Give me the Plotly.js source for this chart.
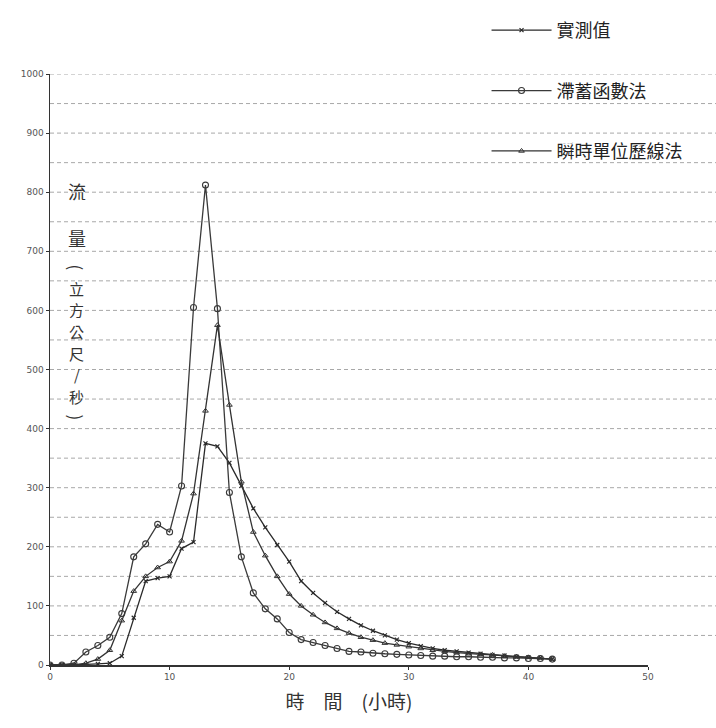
<!DOCTYPE html>
<html>
<head>
<meta charset="utf-8">
<script src="https://cdn.plot.ly/plotly-3.0.1.min.js"></script>
<style>html,body{margin:0;padding:0;background:#fff;}#chart{width:716px;height:728px;}</style>
</head>
<body>
<div id="chart"></div>
<script>
// Hours (x values)
const hours = [0,1,2,3,4,5,6,7,8,9,10,11,12,13,14,15,16,17,18,19,20,21,22,23,24,25,26,27,28,29,30,31,32,33,34,35,36,37,38,39,40,41,42];

// 實測值 (observed)
const observed = [0,0,0,1,2,3,15,80,142,147,150,197,208,375,370,342,303,265,233,203,175,142,122,105,90,78,67,58,50,43,37,32,28,25,23,21,19,17,16,14,13,12,10];

// 滯蓄函數法 (storage function method)
const storageFn = [0,0,3,22,33,47,87,183,205,238,225,303,605,812,603,292,183,122,95,78,55,43,38,33,28,23,22,20,19,18,17,16,15,15,14,14,13,13,12,12,11,11,10];

// 瞬時單位歷線法 (instantaneous unit hydrograph)
const iuh = [0,0,0,3,10,25,75,125,150,165,175,210,290,430,575,440,310,225,185,150,120,100,85,72,62,54,47,42,37,34,31,28,25,23,21,19,18,17,15,14,13,12,10];

const seriesNames = ['實測值', '滯蓄函數法', '瞬時單位歷線法'];
const xTicks = [0,10,20,30,40,50];
const yTicks = [0,100,200,300,400,500,600,700,800,900,1000];

// vertical y-axis title, one glyph per entry
const yTitleChars = ['流', '量', '(', '立', '方', '公', '尺', '/', '秒', ')'];

const cjk = '"Noto Sans CJK TC", "Noto Sans CJK SC", sans-serif';

const traces = [
  {x: hours, y: observed, name: seriesNames[0], mode: 'lines+markers', legendgroup: 'a',
   line: {color: '#2a2a2a', width: 1.3},
   marker: {symbol: 'x-thin-open', size: 4, color: '#2a2a2a', line: {color: '#2a2a2a', width: 1.2}}},
  {x: hours, y: storageFn, name: seriesNames[1], mode: 'lines+markers', legendgroup: 'b',
   line: {color: '#3a3a3a', width: 1.3},
   marker: {symbol: 'circle-open', size: 6, color: '#3a3a3a', line: {width: 1.1}}},
  {x: hours, y: iuh, name: seriesNames[2], mode: 'lines+markers', legendgroup: 'c',
   line: {color: '#333333', width: 1.3},
   marker: {symbol: 'triangle-up-open', size: 5, color: '#333333', line: {width: 1}}}
];

const shapes = [];
for (let v = 50; v <= 1000; v += 50) {
  shapes.push({type: 'line', xref: 'paper', yref: 'y', x0: 0, x1: 1.12, y0: v, y1: v,
    layer: 'below', line: {color: '#a8a8a8', width: 1, dash: '4px,3px'}});
}

// pixel rows of the vertical title glyphs, converted to paper fractions
const plotTop = 66, plotH = 599;
const toPaper = py => 1 - (py - plotTop) / plotH;
const yTitleRows = [185, 232, 262, 283, 305, 327, 349, 371, 393, 414];
const annotations = yTitleChars.map((ch, i) => {
  const isParen = (ch === '(' || ch === ')');
  const big = i < 2;
  return {xref: 'paper', yref: 'paper', x: 0.045, y: toPaper(yTitleRows[i]),
    xanchor: 'center', yanchor: 'middle', showarrow: false, text: ch,
    textangle: isParen ? 90 : 0,
    font: {family: cjk, size: big ? 18 : (isParen ? 17 : 15), color: '#333'}};
});

const layout = {
  width: 716, height: 728,
  margin: {l: 50, r: 68, t: 66, b: 63},
  paper_bgcolor: '#ffffff', plot_bgcolor: 'rgba(0,0,0,0)',
  showlegend: true,
  legend: {x: 0.73, y: 1.105, xanchor: 'left', yanchor: 'top', bgcolor: 'rgba(0,0,0,0)',
    font: {family: cjk, size: 18, color: '#222'}, tracegroupgap: 34, itemwidth: 60},
  xaxis: {range: [0, 50], tickvals: xTicks, ticktext: xTicks.map(String), showgrid: false, zeroline: false,
    showline: true, linecolor: '#333', linewidth: 1.5, ticks: 'outside', ticklen: 3, tickcolor: '#333',
    tickfont: {family: 'DejaVu Sans', size: 9, color: '#555'},
    title: {text: '時　間　(小時)', font: {family: cjk, size: 19, color: '#333'}, standoff: 14}},
  yaxis: {range: [0, 1000], tickvals: yTicks, ticktext: yTicks.map(String), showgrid: false, zeroline: false,
    showline: true, linecolor: '#333', linewidth: 1.5, ticks: 'outside', ticklen: 3, tickcolor: '#333',
    tickfont: {family: 'DejaVu Sans', size: 9, color: '#555'}},
  shapes: shapes,
  annotations: annotations
};

Plotly.newPlot('chart', traces, layout, {displayModeBar: false, staticPlot: true});
</script>
</body>
</html>
